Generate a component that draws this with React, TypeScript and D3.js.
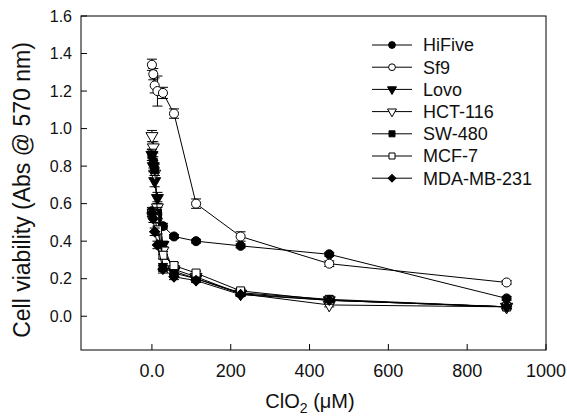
import React from "react";
import * as d3 from "d3";

const conc = [0, 3.5, 7, 14, 28, 56, 112, 225, 450, 900];
const seriesNames = ["HiFive", "Sf9", "Lovo", "HCT-116", "SW-480", "MCF-7", "MDA-MB-231"];
const hiFive = [0.56, 0.55, 0.53, 0.52, 0.48, 0.425, 0.40, 0.375, 0.33, 0.095];
const sf9 = [1.34, 1.29, 1.23, 1.20, 1.19, 1.08, 0.60, 0.425, 0.28, 0.18];
const lovo = [0.86, 0.80, 0.72, 0.63, 0.38, 0.24, 0.20, 0.12, 0.085, 0.05];
const hct116 = [0.96, 0.90, 0.76, 0.58, 0.35, 0.25, 0.21, 0.12, 0.06, 0.05];
const sw480 = [0.86, 0.82, 0.78, 0.55, 0.26, 0.23, 0.20, 0.125, 0.09, 0.05];
const mcf7 = [0.55, 0.54, 0.52, 0.46, 0.325, 0.27, 0.23, 0.135, 0.085, 0.05];
const mda = [0.55, 0.52, 0.45, 0.38, 0.25, 0.21, 0.19, 0.115, 0.085, 0.05];
const hiFiveErr = [0.02, 0.02, 0.02, 0.02, 0.015, 0.01, 0.01, 0.01, 0.01, 0.01];
const sf9Err = [0.03, 0.03, 0.04, 0.08, 0.03, 0.025, 0.025, 0.025, 0.015, 0.01];
const lovoErr = [0.03, 0.03, 0.03, 0.03, 0.02, 0.02, 0.01, 0.01, 0.01, 0.01];
const hct116Err = [0.03, 0.03, 0.03, 0.03, 0.02, 0.02, 0.01, 0.01, 0.01, 0.01];
const sw480Err = [0.03, 0.03, 0.03, 0.03, 0.02, 0.02, 0.01, 0.01, 0.01, 0.01];
const mcf7Err = [0.02, 0.02, 0.02, 0.02, 0.02, 0.015, 0.01, 0.01, 0.01, 0.01];
const mdaErr = [0.02, 0.02, 0.02, 0.02, 0.02, 0.015, 0.01, 0.01, 0.01, 0.01];
const yTicks = [0, 0.2, 0.4, 0.6, 0.8, 1.0, 1.2, 1.4, 1.6];
const xTicks = [0, 200, 400, 600, 800, 1000];
const xTickLabels = ["0.0", "200", "400", "600", "800", "1000"];

const values = [hiFive, sf9, lovo, hct116, sw480, mcf7, mda];
const errors = [hiFiveErr, sf9Err, lovoErr, hct116Err, sw480Err, mcf7Err, mdaErr];
const markers: [string, boolean][] = [
  ["circle", true],
  ["circle", false],
  ["tri", true],
  ["tri", false],
  ["square", true],
  ["square", false],
  ["diamond", true],
];

const W = 567, H = 416;
const L = 81, R = 546, T = 16, B = 350;
const x = d3.scaleLinear().domain([-180, 1000]).range([L, R]);
const y = d3.scaleLinear().domain([-0.18, 1.6]).range([B, T]);

function symbolPath(shape: string, scale: number) {
  if (shape === "circle") return d3.symbol(d3.symbolCircle, 64 * scale * scale)()!;
  if (shape === "tri") return d3.symbol(d3.symbolTriangle, 62 * scale * scale)()!;
  if (shape === "square") return d3.symbol(d3.symbolSquare, 64 * scale * scale)()!;
  return d3.symbol(d3.symbolSquare, 52 * scale * scale)()!;
}
function symbolRot(shape: string) {
  if (shape === "tri") return 180;
  if (shape === "diamond") return 45;
  return 0;
}

const font = "Arial, 'Liberation Sans', Helvetica, sans-serif";
const txt = "#111";

export default function App() {
  const line = d3.line<number>().x((_, i) => x(conc[i])).y((d) => y(d));
  return (
    <svg width={W} height={H} style={{ position: "absolute", left: 0, top: 0, background: "#fff" }} fontFamily={font}>
      <rect x={0} y={0} width={W} height={H} fill="#fff" />
      <rect x={L} y={T} width={R - L} height={B - T} fill="none" stroke="#000" strokeWidth={1} />
      {yTicks.map((t) => (
        <g key={"y" + t}>
          <line x1={L} x2={L + 6} y1={y(t)} y2={y(t)} stroke="#000" />
          <text x={L - 9} y={y(t)} dy="0.35em" textAnchor="end" fontSize={16} fill={txt}>
            {t.toFixed(1)}
          </text>
        </g>
      ))}
      {xTicks.map((t, i) => (
        <g key={"x" + t}>
          <line x1={x(t)} x2={x(t)} y1={B} y2={B - 6} stroke="#000" />
          <text x={x(t)} y={B + 27} textAnchor="middle" fontSize={18} fill={txt}>
            {xTickLabels[i]}
          </text>
        </g>
      ))}
      <text x={310} y={408} textAnchor="middle" fontSize={20} fill={txt}>
        ClO<tspan fontSize={14} dy={5}>2</tspan>
        <tspan dy={-5}> (μM)</tspan>
      </text>
      <text transform={`translate(30,190) rotate(-90)`} textAnchor="middle" fontSize={23} fill={txt}>
        Cell viability (Abs @ 570 nm)
      </text>
      {values.map((vals, si) => {
        const [shape, filled] = markers[si];
        const err = errors[si];
        return (
          <g key={seriesNames[si]}>
            <path d={line(vals)!} fill="none" stroke="#000" strokeWidth={1} />
            {vals.map((v, i) => (
              <g key={i} stroke="#000" strokeWidth={1}>
                <line x1={x(conc[i])} x2={x(conc[i])} y1={y(v - err[i])} y2={y(v + err[i])} />
                <line x1={x(conc[i]) - 5} x2={x(conc[i]) + 5} y1={y(v + err[i])} y2={y(v + err[i])} />
                <line x1={x(conc[i]) - 5} x2={x(conc[i]) + 5} y1={y(v - err[i])} y2={y(v - err[i])} />
              </g>
            ))}
            {vals.map((v, i) => (
              <path
                key={"m" + i}
                d={symbolPath(shape, 1)}
                transform={`translate(${x(conc[i])},${y(v)}) rotate(${symbolRot(shape)})`}
                fill={filled ? "#000" : "#fff"}
                stroke="#000"
                strokeWidth={1}
              />
            ))}
          </g>
        );
      })}
      {seriesNames.map((name, i) => {
        const [shape, filled] = markers[i];
        const ly = 45 + i * 22.2;
        return (
          <g key={"lg" + name}>
            <line x1={372} x2={412} y1={ly} y2={ly} stroke="#000" />
            <path
              d={symbolPath(shape, 0.75)}
              transform={`translate(392,${ly}) rotate(${symbolRot(shape)})`}
              fill={filled ? "#000" : "#fff"}
              stroke="#000"
            />
            <text x={423} y={ly} dy="0.36em" fontSize={18} fill={txt}>
              {name}
            </text>
          </g>
        );
      })}
    </svg>
  );
}
